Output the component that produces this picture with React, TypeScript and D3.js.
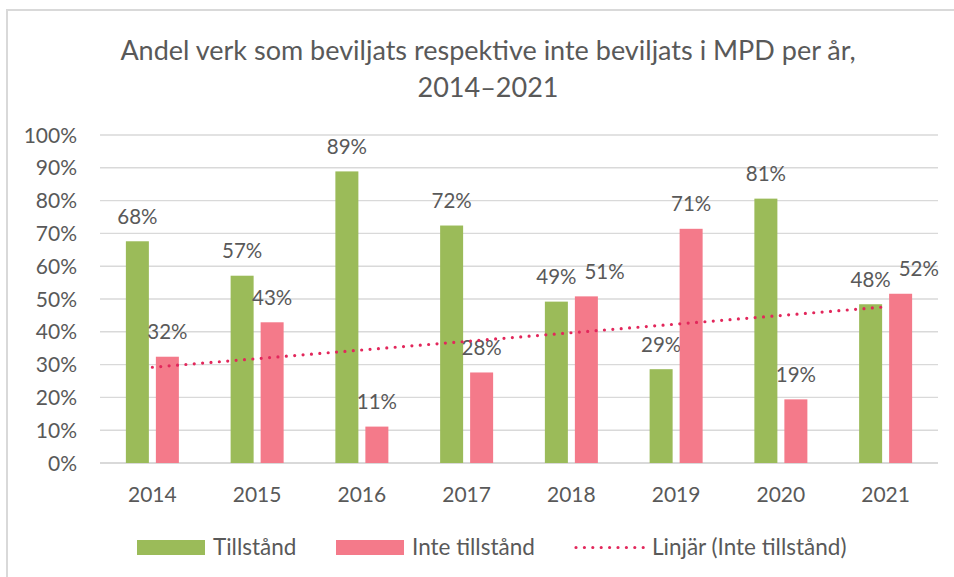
import React, { useEffect, useRef } from 'react';
import * as d3 from 'd3';

const years = ['2014', '2015', '2016', '2017', '2018', '2019', '2020', '2021'];
const tillstand = [67.6, 57.1, 88.9, 72.4, 49.2, 28.6, 80.6, 48.4];
const inteTillstand = [32.4, 42.9, 11.1, 27.6, 50.8, 71.4, 19.4, 51.6];
const yTicks = [0, 10, 20, 30, 40, 50, 60, 70, 80, 90, 100];
const seriesNames = ['Tillstånd', 'Inte tillstånd'];
const trendName = 'Linjär (Inte tillstånd)';
const titleLines = ['Andel verk som beviljats respektive inte beviljats i MPD per år,', '2014–2021'];

const App: React.FC = () => {
  const svgRef = useRef<SVGSVGElement | null>(null);

  useEffect(() => {
    if (!svgRef.current) return;
    d3.select(svgRef.current).selectAll('*').remove();

    const width = 954;
    const height = 577;
    const font = 'Lato, "Open Sans", sans-serif';
    const textColor = '#595959';
    const green = '#9bbb59';
    const pink = '#f47a8a';
    const trendColor = '#e2275b';

    const svg = d3.select(svgRef.current)
      .attr('width', width)
      .attr('height', height)
      .style('font-family', font);

    svg.append('rect')
      .attr('width', width).attr('height', height).attr('fill', '#fff');

    // chart border (runs off the right and bottom edges)
    svg.append('rect')
      .attr('x', 7).attr('y', 10)
      .attr('width', width + 20).attr('height', height + 20)
      .attr('fill', 'none')
      .attr('stroke', '#d9d9d9')
      .attr('stroke-width', 2);

    // title
    titleLines.forEach((t, i) => {
      svg.append('text')
        .attr('x', 488)
        .attr('y', 60 + i * 37)
        .attr('text-anchor', 'middle')
        .style('font-size', '27px')
        .attr('fill', textColor)
        .text(t);
    });

    const x = d3.scaleBand().domain(years).range([100, 938]).padding(0);
    const xs = d3.scaleBand().domain(seriesNames).range([-26.5, 26.5]).paddingInner(7 / 30);
    const y = d3.scaleLinear().domain([0, 100]).range([463, 135]);

    // gridlines
    svg.append('g')
      .selectAll('line')
      .data(yTicks)
      .enter()
      .append('line')
      .attr('x1', 100).attr('x2', 938)
      .attr('y1', d => y(d)).attr('y2', d => y(d))
      .attr('stroke', '#d9d9d9')
      .attr('stroke-width', d => (d === 0 ? 2 : 1.4));

    // y tick labels
    svg.append('g')
      .selectAll('text')
      .data(yTicks)
      .enter()
      .append('text')
      .attr('x', 77)
      .attr('y', d => y(d) + 7.5)
      .attr('text-anchor', 'end')
      .style('font-size', '21px')
      .attr('fill', textColor)
      .text(d => `${d}%`);

    // x labels
    svg.append('g')
      .selectAll('text')
      .data(years)
      .enter()
      .append('text')
      .attr('x', d => (x(d) as number) + x.bandwidth() / 2)
      .attr('y', 502)
      .attr('text-anchor', 'middle')
      .style('font-size', '21px')
      .attr('fill', textColor)
      .text(d => d);

    const series = [
      { name: seriesNames[0], values: tillstand, color: green },
      { name: seriesNames[1], values: inteTillstand, color: pink },
    ];

    const labelGroups: d3.Selection<SVGTextElement, string, SVGGElement, unknown>[] = [];
    series.forEach(s => {
      const bx = (yr: string) => (x(yr) as number) + x.bandwidth() / 2 + (xs(s.name) as number);
      svg.append('g')
        .selectAll('rect')
        .data(years)
        .enter()
        .append('rect')
        .attr('x', d => bx(d))
        .attr('y', (d, i) => y(s.values[i]))
        .attr('width', xs.bandwidth())
        .attr('height', (d, i) => y(0) - y(s.values[i]))
        .attr('fill', s.color);

      const labels = svg.append('g')
        .selectAll<SVGTextElement, string>('text')
        .data(years)
        .enter()
        .append('text')
        .attr('x', d => bx(d) + xs.bandwidth() / 2)
        .attr('y', (d, i) => y(s.values[i]) - 17.5)
        .attr('text-anchor', 'middle')
        .style('font-size', '20.5px')
        .attr('fill', textColor)
        .text((d, i) => `${Math.round(s.values[i])}%`);
      labelGroups.push(labels as any);
    });

    // nudge the second label right when the two labels of a year collide
    const gNodes = labelGroups[0].nodes();
    const pNodes = labelGroups[1].nodes();
    gNodes.forEach((gn, i) => {
      const a = gn.getBBox();
      const b = pNodes[i].getBBox();
      const overlapX = a.x + a.width + 8 - b.x;
      const overlapY = Math.min(a.y + a.height, b.y + b.height) - Math.max(a.y, b.y);
      if (overlapX > 0 && overlapY > 0) {
        const cur = +d3.select(pNodes[i]).attr('x');
        d3.select(pNodes[i]).attr('x', cur + overlapX);
      }
    });

    // linear trendline for Inte tillstånd (least squares)
    const n = inteTillstand.length;
    const mx = d3.mean(d3.range(n)) as number;
    const my = d3.mean(inteTillstand) as number;
    const sxy = d3.sum(inteTillstand, (v, i) => (i - mx) * (v - my));
    const sxx = d3.sum(d3.range(n), i => (i - mx) * (i - mx));
    const slope = sxy / sxx;
    const icpt = my - slope * mx;
    const line = d3.line<number>()
      .x(i => (x(years[i]) as number) + x.bandwidth() / 2)
      .y(i => y(icpt + slope * i));
    svg.append('path')
      .attr('d', line([0, n - 1]) as string)
      .attr('fill', 'none')
      .attr('stroke', trendColor)
      .attr('stroke-width', 3.2)
      .attr('stroke-linecap', 'round')
      .attr('stroke-dasharray', '0 8.4');

    // legend
    const legend = svg.append('g').style('font-size', '22.5px').attr('fill', textColor);
    legend.append('rect').attr('x', 137).attr('y', 540).attr('width', 68).attr('height', 15).attr('fill', green);
    legend.append('text').attr('x', 213).attr('y', 555).text(seriesNames[0]);
    legend.append('rect').attr('x', 336).attr('y', 540).attr('width', 68).attr('height', 15).attr('fill', pink);
    legend.append('text').attr('x', 412).attr('y', 555).text(seriesNames[1]);
    legend.append('line')
      .attr('x1', 576).attr('x2', 644).attr('y1', 547.5).attr('y2', 547.5)
      .attr('stroke', trendColor)
      .attr('stroke-width', 3.2)
      .attr('stroke-linecap', 'round')
      .attr('stroke-dasharray', '0 8.4');
    legend.append('text').attr('x', 652).attr('y', 555).text(trendName);
  }, []);

  return <svg ref={svgRef} style={{ position: 'absolute', left: 0, top: 0, display: 'block' }}></svg>;
};

export default App;
